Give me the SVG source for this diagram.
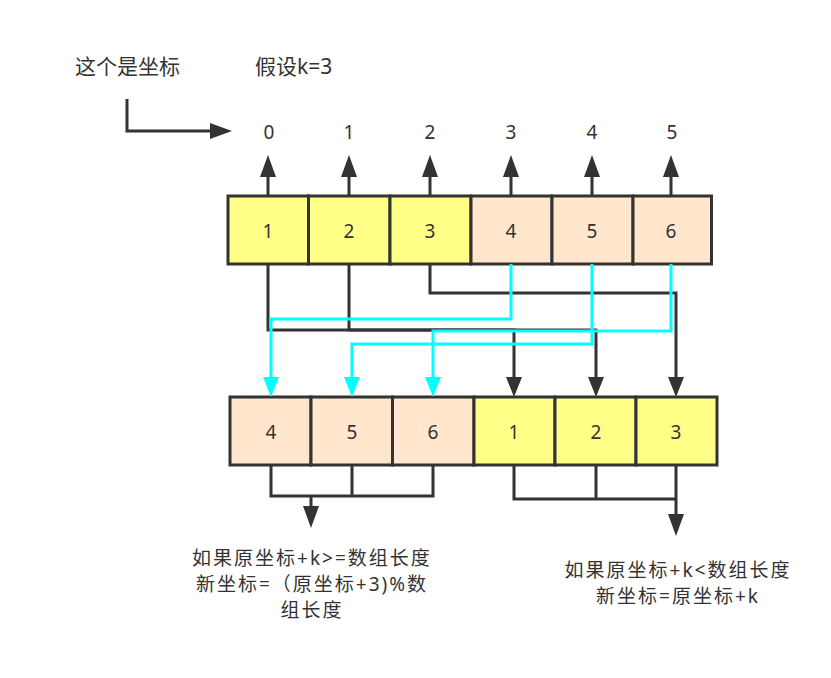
<svg xmlns="http://www.w3.org/2000/svg" width="831" height="678" viewBox="0 0 831 678">
<style>
.bg{fill:#ffffff}
.y{fill:#ffff88;stroke:#333333;stroke-width:3}
.p{fill:#ffe6cc;stroke:#333333;stroke-width:3}
.t{font-family:"Noto Sans","Noto Sans CJK SC",sans-serif;fill:#333333;text-anchor:middle}
.n{font-size:19px}
.c{font-family:"Noto Sans","Noto Sans CJK SC",sans-serif;font-size:21px;fill:#333333}
.m{font-size:19px;letter-spacing:2px}
.k{fill:none;stroke:#333333;stroke-width:3}
.a{fill:none;stroke:#00ffff;stroke-width:3}
</style>
<defs>
<marker id="ak" markerUnits="userSpaceOnUse" viewBox="0 0 22 16" markerWidth="22" markerHeight="16" refX="0" refY="8" orient="auto"><path d="M0,0 L22,8 L0,16 Z" fill="#333333"/></marker>
<marker id="ac" markerUnits="userSpaceOnUse" viewBox="0 0 20 16" markerWidth="20" markerHeight="16" refX="0" refY="8" orient="auto"><path d="M0,0 L20,8 L0,16 Z" fill="#00ffff"/></marker>
<marker id="ak20" markerUnits="userSpaceOnUse" viewBox="0 0 20 16" markerWidth="20" markerHeight="16" refX="0" refY="8" orient="auto"><path d="M0,0 L20,8 L0,16 Z" fill="#333333"/></marker>
</defs>
<rect class="bg" x="0" y="0" width="831" height="678"/>

<g id="label-coord"><text class="c" x="127.5" y="74" text-anchor="middle">这个是坐标</text></g>
<g id="label-k"><text class="c" x="255" y="74">假设k=3</text></g>

<g id="idx-labels">
<text class="t n" x="269" y="139">0</text>
<text class="t n" x="349" y="139">1</text>
<text class="t n" x="430" y="139">2</text>
<text class="t n" x="511" y="139">3</text>
<text class="t n" x="592" y="139">4</text>
<text class="t n" x="672" y="139">5</text>
</g>

<g id="top-1"><rect class="y" x="228" y="196" width="80.5" height="68"/><text class="t n" x="268" y="237.5">1</text></g>
<g id="top-2"><rect class="y" x="308.5" y="196" width="81.5" height="68"/><text class="t n" x="349" y="237.5">2</text></g>
<g id="top-3"><rect class="y" x="390" y="196" width="81" height="68"/><text class="t n" x="430" y="237.5">3</text></g>
<g id="top-4"><rect class="p" x="471" y="196" width="81" height="68"/><text class="t n" x="511" y="237.5">4</text></g>
<g id="top-5"><rect class="p" x="552" y="196" width="81" height="68"/><text class="t n" x="592" y="237.5">5</text></g>
<g id="top-6"><rect class="p" x="633" y="196" width="78.5" height="68"/><text class="t n" x="671" y="237.5">6</text></g>

<g id="bot-4"><rect class="p" x="230" y="397" width="81" height="68"/><text class="t n" x="271" y="438.5">4</text></g>
<g id="bot-5"><rect class="p" x="311" y="397" width="81.5" height="68"/><text class="t n" x="352" y="438.5">5</text></g>
<g id="bot-6"><rect class="p" x="392.5" y="397" width="81.5" height="68"/><text class="t n" x="433" y="438.5">6</text></g>
<g id="bot-1"><rect class="y" x="474" y="397" width="81" height="68"/><text class="t n" x="514" y="438.5">1</text></g>
<g id="bot-2"><rect class="y" x="555" y="397" width="81" height="68"/><text class="t n" x="596" y="438.5">2</text></g>
<g id="bot-3"><rect class="y" x="636" y="397" width="81" height="68"/><text class="t n" x="676" y="438.5">3</text></g>

<g id="note-left">
<text class="t c m" x="312" y="565"><tspan x="312" y="565">如果原坐标+k&gt;=数组长度</tspan><tspan x="312" y="591">新坐标=（原坐标+3)%数</tspan><tspan x="312" y="617">组长度</tspan></text>
</g>
<g id="note-right">
<text class="t c m" x="678" y="577"><tspan x="678" y="577">如果原坐标+k&lt;数组长度</tspan><tspan x="678" y="603">新坐标=原坐标+k</tspan></text>
</g>

<g id="connectors">
<path class="k" d="M127,99 V131 H210" marker-end="url(#ak)"/>
<path class="k" d="M268,196 V177" marker-end="url(#ak)"/>
<path class="k" d="M349,196 V177" marker-end="url(#ak)"/>
<path class="k" d="M430,196 V177" marker-end="url(#ak)"/>
<path class="k" d="M511,196 V177" marker-end="url(#ak)"/>
<path class="k" d="M592,196 V177" marker-end="url(#ak)"/>
<path class="k" d="M671,196 V177" marker-end="url(#ak)"/>

<path class="k" d="M268,264 V330 H514 V377" marker-end="url(#ak20)"/>
<path class="k" d="M349,264 V330 H596 V377" marker-end="url(#ak20)"/>
<path class="k" d="M430,264 V293 H676 V377" marker-end="url(#ak20)"/>
<path class="a" d="M511,264 V319 H271 V377" marker-end="url(#ac)"/>
<path class="a" d="M592,264 V344 H352 V377" marker-end="url(#ac)"/>
<path class="a" d="M671,264 V331 H433 V377" marker-end="url(#ac)"/>

<path class="k" d="M271,465 V496 H433 V465"/>
<path class="k" d="M352,465 V496"/>
<path class="k" d="M311,496 V506" marker-end="url(#ak)"/>
<path class="k" d="M514,465 V499 H676"/>
<path class="k" d="M596,465 V499"/>
<path class="k" d="M676,465 V514" marker-end="url(#ak)"/>
</g>
</svg>
